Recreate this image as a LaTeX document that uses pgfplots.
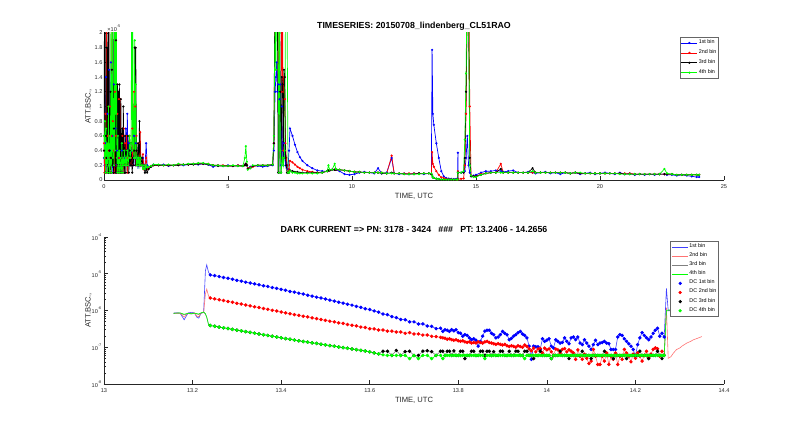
\documentclass[border=0pt]{standalone}
\usepackage{fontspec}
\setmainfont{Liberation Sans}
\usepackage{pgfplots}
\usepackage{pgfplotstable}
\pgfplotsset{compat=1.18}

\pgfplotstableread{
t b1 b2 b3 b4
0.00 0.3 0.5 0.4 0.6
0.02 0.2 0.1 2.5 0.3
0.04 0.1 0.2 3 0.8
0.06 0.5 0.9 0.1 0.1
0.08 1.4 0.3 0.6 0.7
0.10 0.2 2.5 0.3 0.2
0.12 0.1 0.1 1.8 0.5
0.14 0.9 0.6 0.2 0.1
0.16 0.3 0.2 2.4 0.3
0.18 0.2 3 0.1 1.0
0.20 1.5 0.4 2.2 0.2
0.22 0.1 0.1 0.4 0.1
0.24 0.4 1.0 0.1 0.6
0.26 0.2 0.3 1.2 0.2
0.28 1.6 0.1 0.3 2.4
0.30 0.3 0.6 0.1 0.1
0.32 0.1 2.2 1.5 0.4
0.34 0.6 0.2 0.2 2.6
0.36 0.2 0.8 2.3 0.3
0.38 0.1 0.1 0.1 1.1
0.40 1.3 0.4 0.7 0.2
0.42 0.2 0.1 2.1 2.5
0.44 0.1 1.2 0.2 0.4
0.46 0.7 0.2 0.1 2.8
0.48 0.2 0.6 1.9 0.9
0.50 0.1 0.1 0.3 2.2
0.52 0.4 0.3 0.1 0.3
0.54 0.2 0.9 1.3 0.1
0.56 0.1 0.2 0.2 0.6
0.58 0.3 0.1 1.2 0.2
0.60 0.1 1.1 0.1 0.1
0.62 0.2 0.3 1.3 0.4
0.64 0.1 0.1 0.2 0.1
0.66 0.3 1.1 0.1 0.2
0.68 0.2 0.2 1.1 0.3
0.70 0.1 0.1 0.3 0.1
0.72 0.4 0.3 0.1 0.5
0.74 0.2 0.6 0.7 0.2
0.76 0.1 0.1 0.2 0.1
0.78 0.3 0.2 1.0 0.3
0.80 0.2 0.7 0.2 0.2
0.82 0.1 0.1 0.1 0.4
0.85 0.3 0.5 0.6 0.2
0.88 0.7 0.2 0.1 0.3
0.91 0.2 0.6 0.4 0.2
0.94 0.9 0.1 0.2 0.4
0.97 0.2 0.3 0.6 0.2
1.00 0.5 0.2 0.1 0.3
1.03 0.2 0.6 0.4 0.6
1.06 0.3 0.2 0.2 0.3
1.09 0.2 0.3 0.5 0.5
1.12 0.4 0.2 0.2 2.5
1.14 0.2 0.7 0.1 0.4
1.16 0.3 0.2 0.3 2.4
1.18 0.2 0.4 0.2 0.5
1.21 0.6 1.2 0.4 0.3
1.24 0.3 0.3 1.8 1.9
1.26 0.2 1.0 0.2 0.3
1.28 0.5 0.2 1.8 1.3
1.31 0.3 0.6 0.4 0.2
1.34 0.2 0.2 0.2 0.3
1.37 0.3 0.3 0.5 0.2
1.40 0.2 0.5 0.2 0.3
1.43 0.3 0.2 0.8 0.2
1.46 0.2 0.65 0.3 0.3
1.49 0.2 0.2 0.2 0.2
1.53 0.2 0.2 0.3 0.2
1.57 0.3 0.35 0.2 0.15
1.61 0.2 0.15 0.2 0.2
1.65 0.15 0.2 0.1 0.15
1.70 0.5 0.3 0.15 0.2
1.74 0.2 0.15 0.1 0.17
1.80 0.18 0.17 0.15 0.18
1.90 0.19 0.19 0.18 0.19
2.00 0.21 0.20 0.20 0.21
2.20 0.20 0.20 0.20 0.21
2.40 0.21 0.20 0.20 0.20
2.60 0.19 0.20 0.20 0.21
2.80 0.20 0.20 0.20 0.20
3.00 0.21 0.21 0.20 0.22
3.20 0.20 0.21 0.21 0.21
3.40 0.21 0.21 0.21 0.22
3.60 0.22 0.22 0.21 0.22
3.80 0.21 0.22 0.22 0.23
4.00 0.22 0.22 0.22 0.23
4.20 0.21 0.22 0.21 0.22
4.40 0.18 0.20 0.20 0.20
4.60 0.20 0.20 0.19 0.20
4.80 0.19 0.20 0.19 0.19
5.00 0.20 0.19 0.19 0.19
5.20 0.19 0.19 0.19 0.20
5.40 0.20 0.20 0.19 0.19
5.60 0.19 0.19 0.19 0.19
5.68 0.20 0.20 0.20 0.30
5.72 0.22 0.22 0.22 0.46
5.76 0.20 0.20 0.20 0.25
5.80 0.16 0.16 0.15 0.14
5.90 0.18 0.17 0.16 0.16
6.00 0.19 0.18 0.19 0.20
6.20 0.19 0.20 0.20 0.20
6.40 0.18 0.20 0.20 0.20
6.60 0.19 0.20 0.20 0.20
6.80 0.20 0.21 0.21 0.21
6.85 0.40 0.50 0.50 0.60
6.90 1.2 2.5 3 2.2
6.93 1.4 3 2.8 1.5
6.96 1.6 3 3 2.5
6.99 1.2 2.5 2.6 3
7.02 1.3 2.4 0.1 2.6
7.05 0.1 0.1 0.1 0.1
7.08 1.1 2.5 2.4 2.0
7.11 1.3 3 1.2 0.4
7.14 0.2 2.2 0.1 0.1
7.17 1.0 1.2 1.4 0.2
7.20 0.4 2.5 1.3 0.3
7.23 0.2 0.4 0.3 0.2
7.26 0.5 1.4 1.5 0.3
7.29 0.3 1.1 1.4 0.4
7.32 0.2 0.5 0.3 2.5
7.35 0.3 0.3 0.2 3
7.38 0.2 0.2 0.1 2.4
7.42 0.15 0.1 0.1 0.1
7.46 0.4 0.15 0.1 0.1
7.50 0.70 0.26 0.13 0.12
7.60 0.60 0.24 0.12 0.10
7.70 0.48 0.21 0.11 0.10
7.80 0.38 0.18 0.11 0.09
7.90 0.31 0.16 0.10 0.09
8.00 0.26 0.14 0.10 0.09
8.20 0.20 0.12 0.10 0.09
8.40 0.16 0.11 0.10 0.09
8.60 0.13 0.10 0.10 0.09
8.80 0.12 0.10 0.10 0.10
9.00 0.12 0.12 0.12 0.12
9.05 0.13 0.13 0.13 0.20
9.10 0.13 0.13 0.13 0.14
9.20 0.14 0.14 0.14 0.14
9.30 0.14 0.14 0.14 0.22
9.35 0.14 0.14 0.14 0.15
9.50 0.12 0.14 0.14 0.14
9.70 0.08 0.13 0.13 0.13
9.90 0.07 0.12 0.12 0.12
10.10 0.08 0.11 0.11 0.11
10.30 0.10 0.11 0.11 0.11
10.50 0.11 0.10 0.10 0.10
10.70 0.10 0.10 0.10 0.10
10.90 0.09 0.10 0.10 0.10
11.05 0.16 0.10 0.10 0.10
11.20 0.09 0.10 0.09 0.10
11.40 0.10 0.09 0.09 0.09
11.60 0.30 0.33 0.10 0.09
11.70 0.09 0.09 0.09 0.09
11.90 0.08 0.09 0.09 0.09
12.10 0.09 0.09 0.08 0.08
12.30 0.08 0.09 0.08 0.08
12.50 0.09 0.09 0.08 0.08
12.70 0.09 0.09 0.09 0.08
12.90 0.08 0.09 0.09 0.09
13.10 0.09 0.09 0.09 0.09
13.20 0.08 0.08 0.08 0.09
13.23 1.77 0.38 0.06 0.06
13.26 0.90 0.22 0.035 0.035
13.30 0.75 0.18 0.03 0.03
13.40 0.50 0.12 0.018 0.018
13.50 0.30 0.07 0.012 0.012
13.60 0.12 0.035 0.007 0.007
13.70 0.05 0.025 0.007 0.007
13.80 0.025 0.015 0.006 0.006
13.90 0.02 0.01 0.006 0.006
14.00 0.015 0.009 0.006 0.006
14.10 0.013 0.006 0.006 0.006
14.20 0.015 0.006 0.006 0.006
14.26 0.02 0.007 0.006 0.006
14.27 0.37 0.12 0.10 0.10
14.28 0.10 0.01 0.10 0.10
14.40 0.10 0.016 0.10 0.10
14.50 0.10 0.02 0.10 0.12
14.55 0.12 0.2 0.3 0.55
14.60 0.3 0.9 1.2 1.45
14.65 0.6 2.5 2.5 3
14.70 0.2 3 2.2 2.4
14.75 0.1 1.0 0.3 0.2
14.80 0.05 0.06 0.05 0.06
14.90 0.06 0.05 0.05 0.04
15.00 0.07 0.05 0.05 0.04
15.20 0.10 0.08 0.07 0.07
15.40 0.12 0.09 0.09 0.09
15.60 0.12 0.10 0.10 0.10
15.80 0.13 0.10 0.10 0.10
16.00 0.12 0.22 0.15 0.10
16.10 0.11 0.10 0.10 0.10
16.30 0.12 0.10 0.10 0.10
16.50 0.13 0.10 0.10 0.10
16.70 0.10 0.10 0.10 0.10
16.90 0.10 0.10 0.10 0.10
17.10 0.11 0.10 0.10 0.10
17.28 0.10 0.10 0.16 0.12
17.40 0.09 0.10 0.10 0.10
17.60 0.10 0.10 0.10 0.10
17.80 0.11 0.10 0.10 0.10
18.00 0.09 0.10 0.10 0.10
18.20 0.10 0.10 0.10 0.10
18.40 0.08 0.10 0.10 0.10
18.60 0.10 0.10 0.10 0.10
18.80 0.09 0.09 0.09 0.09
19.00 0.10 0.10 0.10 0.10
19.20 0.08 0.09 0.09 0.10
19.40 0.09 0.09 0.09 0.09
19.60 0.10 0.09 0.09 0.09
19.80 0.08 0.09 0.09 0.09
20.00 0.09 0.09 0.09 0.09
20.20 0.10 0.09 0.09 0.09
20.40 0.09 0.09 0.09 0.09
20.60 0.08 0.09 0.09 0.09
20.80 0.10 0.09 0.09 0.08
21.00 0.08 0.09 0.08 0.08
21.20 0.09 0.09 0.08 0.08
21.40 0.07 0.08 0.08 0.08
21.60 0.08 0.08 0.08 0.08
21.80 0.07 0.08 0.08 0.08
22.00 0.08 0.08 0.08 0.08
22.20 0.07 0.08 0.08 0.08
22.40 0.08 0.08 0.08 0.08
22.60 0.08 0.08 0.08 0.15
22.70 0.07 0.08 0.08 0.09
22.90 0.07 0.08 0.08 0.08
23.10 0.06 0.07 0.07 0.07
23.30 0.07 0.07 0.07 0.07
23.50 0.06 0.07 0.07 0.07
23.70 0.05 0.07 0.07 0.07
23.90 0.04 0.07 0.07 0.07
24.00 0.04 0.07 0.07 0.07
}\topdata

\pgfplotstableread{
t b1 b2 b3 b4
13.157 8.5e-7 8.5e-7 8.3e-7 8.4e-7
13.165 8.6e-7 8.3e-7 8.6e-7 8.5e-7
13.172 8.4e-7 8.4e-7 8.5e-7 8.6e-7
13.181 5.6e-7 6.6e-7 7.6e-7 7.9e-7
13.190 8.6e-7 8.5e-7 8.3e-7 8.4e-7
13.197 8.9e-7 8.4e-7 8.0e-7 8.2e-7
13.204 8.6e-7 8.6e-7 8.4e-7 8.5e-7
13.210 6.5e-7 7.0e-7 8.0e-7 8.2e-7
13.214 6.2e-7 6.8e-7 7.8e-7 8.0e-7
13.219 8.3e-7 8.5e-7 8.5e-7 8.6e-7
13.225 9.0e-7 8.8e-7 9.0e-7 9.1e-7
13.229 1.2e-5 2.8e-6 8.0e-7 8.2e-7
13.232 1.74e-5 3.8e-6 6.5e-7 6.6e-7
13.236 1.1e-5 2.5e-6 4.2e-7 4.2e-7
13.24 9.3e-6 2.19e-6 3.9e-7 3.9e-7
13.25 8.9e-6 2.07e-6 3.72e-7 3.72e-7
13.26 8.4e-6 1.96e-6 3.54e-7 3.54e-7
13.27 7.9e-6 1.87e-6 3.38e-7 3.38e-7
13.28 7.5e-6 1.76e-6 3.22e-7 3.22e-7
13.29 7.1e-6 1.68e-6 3.07e-7 3.07e-7
13.30 6.6e-6 1.57e-6 2.92e-7 2.92e-7
13.31 6.3e-6 1.50e-6 2.79e-7 2.79e-7
13.32 5.9e-6 1.41e-6 2.66e-7 2.66e-7
13.33 5.6e-6 1.34e-6 2.53e-7 2.53e-7
13.34 5.3e-6 1.26e-6 2.41e-7 2.41e-7
13.35 5.0e-6 1.20e-6 2.30e-7 2.30e-7
13.36 4.7e-6 1.13e-6 2.19e-7 2.19e-7
13.37 4.5e-6 1.08e-6 2.09e-7 2.09e-7
13.38 4.2e-6 1.01e-6 1.99e-7 1.99e-7
13.39 4.0e-6 9.7e-7 1.90e-7 1.90e-7
13.40 3.75e-6 9.1e-7 1.81e-7 1.81e-7
13.41 3.55e-6 8.6e-7 1.72e-7 1.72e-7
13.42 3.3e-6 8.2e-7 1.64e-7 1.64e-7
13.43 3.15e-6 7.7e-7 1.57e-7 1.57e-7
13.44 2.95e-6 7.4e-7 1.50e-7 1.50e-7
13.45 2.8e-6 6.95e-7 1.44e-7 1.44e-7
13.46 2.6e-6 6.7e-7 1.38e-7 1.38e-7
13.47 2.45e-6 6.3e-7 1.32e-7 1.32e-7
13.48 2.3e-6 6.0e-7 1.27e-7 1.27e-7
13.49 2.2e-6 5.65e-7 1.21e-7 1.21e-7
13.50 2.05e-6 5.4e-7 1.16e-7 1.16e-7
13.51 1.92e-6 5.1e-7 1.11e-7 1.11e-7
13.52 1.8e-6 4.9e-7 1.07e-7 1.07e-7
13.53 1.68e-6 4.6e-7 1.02e-7 1.02e-7
13.54 1.58e-6 4.45e-7 9.8e-8 9.8e-8
13.55 1.48e-6 4.15e-7 9.4e-8 9.4e-8
13.56 1.40e-6 3.95e-7 9.0e-8 9.0e-8
13.57 1.29e-6 3.8e-7 8.6e-8 8.6e-8
13.58 1.22e-6 3.55e-7 8.2e-8 8.2e-8
13.59 1.12e-6 3.45e-7 7.9e-8 7.9e-8
13.60 1.06e-6 3.2e-7 7.5e-8 7.5e-8
13.61 9.7e-7 3.15e-7 7.0e-8 7.0e-8
13.62 9.0e-7 2.95e-7 6.6e-8 6.6e-8
13.63 8.0e-7 2.95e-7 7.8e-8 6.2e-8
13.64 7.7e-7 2.75e-7 7.8e-8 6.0e-8
13.65 6.8e-7 2.75e-7 6.0e-8 6.0e-8
13.66 6.4e-7 2.6e-7 8.2e-8 6.0e-8
13.67 5.7e-7 2.6e-7 6.0e-8 6.0e-8
13.68 5.6e-7 2.4e-7 7.6e-8 6.0e-8
13.69 4.9e-7 2.5e-7 7.8e-8 4.9e-8
13.70 4.9e-7 2.3e-7 6.0e-8 6.0e-8
13.71 4.3e-7 2.3e-7 6.0e-8 4.9e-8
13.72 4.3e-7 2.15e-7 7.8e-8 6.0e-8
13.73 3.8e-7 2.15e-7 8.0e-8 6.0e-8
13.74 3.7e-7 1.98e-7 7.6e-8 4.9e-8
13.75 3.2e-7 1.95e-7 6.0e-8 6.0e-8
13.76 3.3e-7 1.85e-7 7.8e-8 6.0e-8
13.765 2.7e-7 1.8e-7 7.8e-8 4.9e-8
13.770 3.0e-7 1.75e-7 6.0e-8 6.0e-8
13.775 2.9e-7 1.65e-7 7.8e-8 6.0e-8
13.780 2.7e-7 1.7e-7 7.8e-8 6.0e-8
13.785 3.0e-7 1.6e-7 6.0e-8 6.0e-8
13.790 2.8e-7 1.55e-7 8.0e-8 6.0e-8
13.795 3.0e-7 1.6e-7 6.0e-8 6.0e-8
13.800 2.5e-7 1.5e-7 6.0e-8 6.0e-8
13.805 2.4e-7 1.45e-7 7.8e-8 6.0e-8
13.810 2.0e-7 1.5e-7 7.8e-8 6.0e-8
13.815 2.2e-7 1.4e-7 4.9e-8 6.0e-8
13.820 2.1e-7 1.35e-7 6.0e-8 6.0e-8
13.825 1.8e-7 1.4e-7 6.0e-8 6.0e-8
13.830 1.6e-7 1.3e-7 7.8e-8 6.0e-8
13.835 1.7e-7 1.35e-7 7.8e-8 6.0e-8
13.840 1.55e-7 1.3e-7 6.0e-8 6.0e-8
13.845 1.07e-7 1.4e-7 6.0e-8 6.0e-8
13.850 1.45e-7 1.35e-7 7.8e-8 6.0e-8
13.855 2.0e-7 1.3e-7 7.8e-8 6.0e-8
13.860 2.75e-7 1.4e-7 6.0e-8 4.9e-8
13.865 2.9e-7 1.45e-7 7.8e-8 6.0e-8
13.870 2.9e-7 1.35e-7 7.8e-8 6.0e-8
13.875 2.4e-7 1.3e-7 6.0e-8 6.0e-8
13.880 2.2e-7 1.25e-7 7.6e-8 6.0e-8
13.885 1.8e-7 1.2e-7 6.0e-8 6.0e-8
13.890 1.9e-7 1.25e-7 6.0e-8 6.0e-8
13.895 2.2e-7 1.2e-7 7.8e-8 6.0e-8
13.900 2.7e-7 1.15e-7 7.8e-8 6.0e-8
13.905 2.4e-7 1.2e-7 6.0e-8 6.0e-8
13.910 2.2e-7 1.1e-7 6.0e-8 6.0e-8
13.915 1.6e-7 1.05e-7 7.8e-8 6.0e-8
13.920 1.75e-7 1.1e-7 6.0e-8 6.0e-8
13.925 2.0e-7 1.05e-7 6.0e-8 6.0e-8
13.930 2.2e-7 1.0e-7 7.8e-8 6.0e-8
13.935 2.5e-7 1.1e-7 7.8e-8 6.0e-8
13.940 2.7e-7 1.05e-7 6.0e-8 6.0e-8
13.945 2.3e-7 1.0e-7 6.0e-8 6.0e-8
13.950 2.1e-7 1.15e-7 7.8e-8 4.9e-8
13.955 1.8e-7 1.05e-7 7.8e-8 6.0e-8
13.960 1.07e-7 9.0e-8 6.0e-8 6.0e-8
13.965 4.7e-8 8.0e-8 6.0e-8 6.0e-8
13.970 1.07e-7 9.5e-8 4.9e-8 6.0e-8
13.975 1.03e-7 7.5e-8 6.0e-8 6.0e-8
13.980 1.03e-7 9.0e-8 6.0e-8 6.0e-8
13.985 8.7e-8 9.2e-8 7.8e-8 6.0e-8
13.990 1.7e-7 7.0e-8 6.0e-8 6.0e-8
13.995 1.45e-7 9.5e-8 6.0e-8 6.0e-8
14.000 1.55e-7 8.5e-8 6.0e-8 6.0e-8
14.005 1.7e-7 9.0e-8 6.0e-8 6.0e-8
14.010 1.07e-7 7.5e-8 4.9e-8 4.9e-8
14.015 9.6e-8 6.0e-8 6.0e-8 6.0e-8
14.020 1.6e-7 9.0e-8 6.0e-8 6.0e-8
14.025 1.45e-7 8.5e-8 6.0e-8 6.0e-8
14.030 1.3e-7 7.0e-8 7.8e-8 6.0e-8
14.035 1.35e-7 8.8e-8 6.0e-8 6.0e-8
14.040 1.8e-7 9.2e-8 6.0e-8 6.0e-8
14.045 1.45e-7 7.5e-8 6.0e-8 6.0e-8
14.050 1.25e-7 8.5e-8 4.9e-8 6.0e-8
14.055 1.8e-7 7.8e-8 6.0e-8 6.0e-8
14.060 1.9e-7 7.0e-8 6.0e-8 6.0e-8
14.065 1.6e-7 4.7e-8 6.0e-8 6.0e-8
14.070 1.9e-7 8.5e-8 6.0e-8 6.0e-8
14.075 1.3e-7 5.7e-8 6.0e-8 6.0e-8
14.080 1.18e-7 4.7e-8 7.8e-8 6.0e-8
14.085 1.6e-7 6.5e-8 6.0e-8 6.0e-8
14.090 1.3e-7 5.0e-8 6.0e-8 6.0e-8
14.095 1.07e-7 3.6e-8 6.0e-8 6.0e-8
14.100 8.7e-8 4.2e-8 4.9e-8 6.0e-8
14.105 1.18e-7 8.7e-8 6.0e-8 6.0e-8
14.110 1.55e-7 5.7e-8 6.0e-8 6.0e-8
14.115 1.18e-7 3.4e-8 6.0e-8 6.0e-8
14.120 1.3e-7 3.4e-8 6.0e-8 6.0e-8
14.125 1.35e-7 5.7e-8 6.0e-8 6.0e-8
14.130 1.45e-7 4.2e-8 7.8e-8 6.0e-8
14.135 1.3e-7 7.0e-8 6.0e-8 6.0e-8
14.140 1.25e-7 3.4e-8 6.0e-8 6.0e-8
14.145 8.7e-8 5.7e-8 6.0e-8 6.0e-8
14.150 8.7e-8 4.7e-8 4.9e-8 6.0e-8
14.155 8.7e-8 7.0e-8 6.0e-8 6.0e-8
14.160 1.9e-7 3.4e-8 6.0e-8 6.0e-8
14.165 2.2e-7 5.7e-8 6.0e-8 6.0e-8
14.170 2.1e-7 4.7e-8 6.0e-8 6.0e-8
14.175 1.7e-7 8.7e-8 6.0e-8 6.0e-8
14.180 1.45e-7 7.0e-8 4.9e-8 6.0e-8
14.185 1.25e-7 5.7e-8 6.0e-8 6.0e-8
14.190 1.07e-7 4.0e-8 6.0e-8 6.0e-8
14.195 8.7e-8 6.5e-8 6.0e-8 6.0e-8
14.200 5.7e-8 5.0e-8 6.0e-8 6.0e-8
14.205 1.18e-7 7.0e-8 6.0e-8 6.0e-8
14.210 1.8e-7 5.7e-8 7.8e-8 6.0e-8
14.215 2.5e-7 4.2e-8 6.0e-8 6.0e-8
14.220 2.1e-7 6.0e-8 6.0e-8 6.0e-8
14.225 1.8e-7 7.8e-8 6.0e-8 6.0e-8
14.230 1.6e-7 5.2e-8 4.9e-8 6.0e-8
14.235 1.9e-7 6.5e-8 6.0e-8 6.0e-8
14.240 2.4e-7 8.7e-8 6.0e-8 6.0e-8
14.245 2.9e-7 9.6e-8 6.0e-8 6.0e-8
14.250 3.3e-7 9.1e-8 7.8e-8 6.0e-8
14.255 2.0e-7 5.7e-8 6.0e-8 6.0e-8
14.260 2.4e-7 7.8e-8 4.9e-8 6.0e-8
14.265 1.9e-7 6.0e-8 6.0e-8 6.0e-8
14.270 4.0e-6 1.2e-6 9.8e-7 1.0e-6
14.274 1.0e-6 5.0e-8 9.8e-7 1.03e-6
14.280 1.0e-6 5.5e-8 9.9e-7 1.04e-6
14.286 1.0e-6 7.0e-8 9.8e-7 1.03e-6
14.293 1.0e-6 8.7e-8 9.7e-7 1.03e-6
14.300 1.0e-6 9.5e-8 9.6e-7 1.02e-6
14.305 1.0e-6 1.07e-7 9.6e-7 1.02e-6
14.316 1.0e-6 1.3e-7 9.6e-7 1.01e-6
14.325 1.0e-6 1.45e-7 9.7e-7 1.02e-6
14.331 1.0e-6 1.6e-7 9.7e-7 1.02e-6
14.340 1.0e-6 1.75e-7 9.8e-7 1.02e-6
14.350 1.0e-6 1.95e-7 9.8e-7 1.02e-6
}\botdata

\pgfplotsset{
  myaxis/.style={
    scale only axis, width=310pt, height=73.5pt,
    axis x line=bottom, axis y line=left,
    axis line style={-, draw=black!85, line width=0.35pt},
    every tick/.style={draw=black!85, line width=0.3pt},
    major tick length=2pt, minor tick length=1.2pt,
    tick align=inside,
    ticklabel style={font=\fontsize{2.8}{3.2}\selectfont, text=black!85},
    xticklabel style={anchor=north, inner sep=0pt, yshift=-2pt},
    yticklabel style={anchor=east, inner sep=0pt, xshift=-0.6pt},
    /pgf/number format/assume math mode=true,
    title style={at={(axis description cs:0.5,1.031)}, anchor=base, yshift=-6pt, inner sep=0pt, font=\bfseries\fontsize{4.4}{5}\selectfont},
    xlabel style={at={(axis description cs:0.5,-0.125)}, anchor=base, inner sep=0pt, font=\fontsize{3.8}{4.5}\selectfont, text=black!85},
    ylabel style={at={(axis description cs:-0.0215,0.5)}, anchor=base, inner sep=0pt, font=\fontsize{3.8}{4.5}\selectfont, text=black!85},
    legend style={font=\fontsize{2.7}{3}\selectfont, draw=black!60, line width=0.3pt,
      at={(axis description cs:1,1)}, anchor=north east, xshift=-2.5pt, yshift=-2pt,
      inner sep=0.6pt, row sep=0.3pt, nodes={inner sep=0.5pt}},
    legend cell align=left,
  },
  toplegend/.style={legend image code/.code={\draw[mark repeat=2,mark phase=2,##1] plot coordinates {(0pt,0pt) (4pt,0pt) (8pt,0pt)};}},
  linelegend/.style={legend image code/.code={\draw[##1] (0pt,0pt) -- (8pt,0pt);}},
  marklegend/.style={legend image code/.code={\draw[##1] plot[only marks] coordinates {(4pt,0pt)};}},
}

\begin{document}
\begin{tikzpicture}[x=1pt,y=1pt]
\path[use as bounding box] (0,0) rectangle (400,216);

\begin{axis}[myaxis, name=topax, at={(52pt,126pt)}, anchor=south west,
  xmin=0, xmax=25, ymin=0, ymax=2,
  xtick={0,5,10,15,20,25}, xticklabels={0,5,10,15,20,25},
  ytick={0,0.2,0.4,0.6,0.8,1,1.2,1.4,1.6,1.8,2},
  yticklabels={0,0.2,0.4,0.6,0.8,1,1.2,1.4,1.6,1.8,2},
  title={TIMESERIES: 20150708\_lindenberg\_CL51RAO},
  xlabel={TIME, UTC}, ylabel={ATT.BSC.,},
  legend style={row sep=0.5pt},
]
\addplot[blue, line width=0.35pt, mark=*, mark size=0.35pt, toplegend] table[x=t,y=b1]{\topdata};
\addlegendentry{1st bin}
\addplot[red, line width=0.35pt, mark=*, mark size=0.35pt, toplegend] table[x=t,y=b2]{\topdata};
\addlegendentry{2nd bin}
\addplot[black, line width=0.35pt, mark=*, mark size=0.35pt, toplegend] table[x=t,y=b3]{\topdata};
\addlegendentry{3rd bin}
\addplot[green, line width=0.35pt, mark=*, mark size=0.35pt, toplegend] table[x=t,y=b4]{\topdata};
\addlegendentry{4th bin}
\end{axis}
\node[anchor=south west, inner sep=0pt, font=\fontsize{2.8}{3}\selectfont, text=black!85] at ([xshift=1.5pt,yshift=0.6pt]topax.north west) {×10\textsuperscript{-5}};

\begin{axis}[myaxis, at={(52pt,24pt)}, anchor=south west,
  xmin=13, xmax=14.4, ymode=log, ymin=1e-8, ymax=1e-4,
  xtick={13,13.2,13.4,13.6,13.8,14,14.2,14.4},
  xticklabels={13,13.2,13.4,13.6,13.8,14,14.2,14.4},
  ytick={1e-8,1e-7,1e-6,1e-5,1e-4},
  yticklabels={10\textsuperscript{-8},10\textsuperscript{-7},10\textsuperscript{-6},10\textsuperscript{-5},10\textsuperscript{-4}},
  title={DARK CURRENT => PN: 3178 - 3424\hspace{3.6pt}\#\#\#\hspace{3.6pt}PT: 13.2406 - 14.2656},
  xlabel={TIME, UTC}, ylabel={ATT.BSC.,},
  legend style={row sep=0.1pt},
]
\addplot[blue!75, line width=0.3pt, linelegend] table[x=t,y=b1]{\botdata};
\addlegendentry{1st bin}
\addplot[red!55, line width=0.3pt, linelegend] table[x=t,y=b2]{\botdata};
\addlegendentry{2nd bin}
\addplot[black!50, line width=0.3pt, linelegend] table[x=t,y=b3]{\botdata};
\addlegendentry{3rd bin}
\addplot[green, line width=0.3pt, linelegend] table[x=t,y=b4]{\botdata};
\addlegendentry{4th bin}
\addplot[blue, only marks, mark=*, mark size=0.65pt, marklegend, restrict x to domain=13.238:14.266] table[x=t,y=b1]{\botdata};
\addlegendentry{DC 1st bin}
\addplot[red, only marks, mark=*, mark size=0.65pt, marklegend, restrict x to domain=13.238:14.266] table[x=t,y=b2]{\botdata};
\addlegendentry{DC 2nd bin}
\addplot[black, only marks, mark=*, mark size=0.65pt, marklegend, restrict x to domain=13.238:14.266] table[x=t,y=b3]{\botdata};
\addlegendentry{DC 3rd bin}
\addplot[green, only marks, mark=*, mark size=0.65pt, marklegend, restrict x to domain=13.238:14.266] table[x=t,y=b4]{\botdata};
\addlegendentry{DC 4th bin}
\end{axis}
\end{tikzpicture}
\end{document}
